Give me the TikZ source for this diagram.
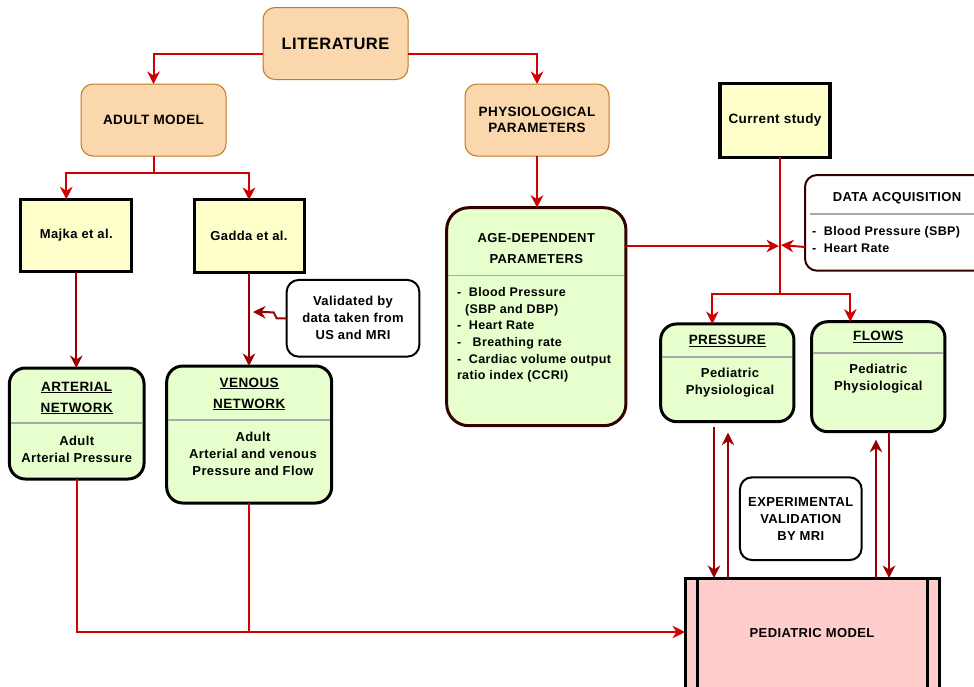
\documentclass[tikz,border=0pt]{standalone}
\usepackage{fontspec}
\setmainfont[LetterSpace=3]{Liberation Sans}
\usetikzlibrary{arrows.meta,calc}
\definecolor{peachf}{HTML}{FAD7AC}
\definecolor{peachb}{HTML}{C47A1E}
\definecolor{yelf}{HTML}{FFFFCC}
\definecolor{grnf}{HTML}{E6FFCC}
\definecolor{pinkf}{HTML}{FFCCCC}
\definecolor{redA}{HTML}{D00000}
\definecolor{redD}{HTML}{990000}
\definecolor{brn}{HTML}{330000}
\definecolor{divc}{HTML}{A8A8A8}
\begin{document}
\begin{tikzpicture}[x=1pt,y=-1pt,
  every node/.style={inner sep=0pt, outer sep=0pt},
  txt/.style={align=center, font=\bfseries\fontsize{13}{17}\selectfont},
  ttl/.style={align=center, font=\bfseries\fontsize{13.5}{21}\selectfont},
  peach/.style={draw=peachb, fill=peachf, line width=1pt, rounded corners=12pt},
  ybox/.style={draw=black, fill=yelf, line width=3pt},
  gbox/.style={draw=black, fill=grnf, line width=3pt, rounded corners=16pt},
  wbox/.style={draw=black, fill=white, line width=2pt, rounded corners=12pt},
  divline/.style={draw=divc, line width=1.5pt},
  tipA/.style={-{Stealth[length=12.5pt,width=12.5pt,inset=4pt]}},
  arr/.style={draw=redA, line width=2pt, tipA},
  arrd/.style={draw=redD, line width=2pt, tipA},
  lineA/.style={draw=redA, line width=2pt},
  lineB/.style={draw=redA, line width=1.6pt},
  arrB/.style={draw=redA, line width=1.6pt, tipA}]
\useasboundingbox (0,0) rectangle (974,686);
\clip (0,0) rectangle (974,686);

% ---- top level ----
\node[peach, minimum width=145, minimum height=72, font=\bfseries\fontsize{16.5}{20}\selectfont] (lit) at (335.5,43.5) {LITERATURE};
\node[peach, minimum width=145, minimum height=72, font=\bfseries\fontsize{13.5}{17}\selectfont] (adult) at (153.5,120) {ADULT MODEL};
\node[peach, minimum width=144, minimum height=72, align=center, font=\bfseries\fontsize{13.5}{16.5}\selectfont] (phys) at (537,120) {PHYSIOLOGICAL\\PARAMETERS};

% ---- yellow boxes ----
\node[ybox, minimum width=110.7, minimum height=72.4, txt] (majka) at (76.3,235.5) {Majka et al.};
\node[ybox, minimum width=110, minimum height=72.7, txt] (gadda) at (249,236.3) {Gadda et al.};
\node[ybox, line width=3.5pt, minimum width=110, minimum height=74, font=\bfseries\fontsize{13.5}{17}\selectfont] (cur) at (775,120.3) {Current study};

% ---- validated ----
\node[wbox, minimum width=132.7, minimum height=76.7, txt] (valid) at (353,318.3) {Validated by\\data taken from\\US and MRI};

% ---- arterial ----
\node[gbox, minimum width=134.7, minimum height=111] (art) at (76.7,423.5) {};
\node[ttl] (artT) at (76.7,398) {\underline{ARTERIAL}\\\underline{NETWORK}};
\draw[divline] ([xshift=1.5pt]art.west |- 0,423) -- ([xshift=-1.5pt]art.east |- 0,423);
\node[txt] (artB) at (76.7,449) {Adult\\Arterial Pressure};

% ---- venous ----
\node[gbox, minimum width=165, minimum height=137] (ven) at (249.2,434.5) {};
\node[ttl] (venT) at (249.2,394) {\underline{VENOUS}\\\underline{NETWORK}};
\draw[divline] ([xshift=1.5pt]ven.west |- 0,420) -- ([xshift=-1.5pt]ven.east |- 0,420);
\node[txt] (venB) at (253,454) {Adult\\Arterial and venous\\Pressure and Flow};

% ---- age dependent ----
\node[draw=brn, fill=grnf, line width=3pt, rounded corners=22pt, minimum width=179.3, minimum height=218] (age) at (536.3,316.7) {};
\node[align=center, font=\bfseries\fontsize{13}{21}\selectfont] (ageT) at (536.3,248.5) {AGE-DEPENDENT\\PARAMETERS};
\draw[divline] ([xshift=1.5pt]age.west |- 0,275.7) -- ([xshift=-1.5pt]age.east |- 0,275.7);
\node[anchor=west, align=left, font=\bfseries\fontsize{12.5}{16.7}\selectfont] (ageB) at (457,335) {-\ \ Blood Pressure\\\hspace*{8pt}(SBP and DBP)\\-\ \ Heart Rate\\-\ \ \ Breathing rate\\-\ \ Cardiac volume output\\ratio index (CCRI)};

% ---- data acquisition ----
\node[draw=brn, fill=white, line width=2pt, rounded corners=12pt, minimum width=190, minimum height=95.7, anchor=north west] (data) at (805,175) {};
\node[txt] (dataT) at (897,198.3) {DATA ACQUISITION};
\draw[divline] ([xshift=5pt]data.west |- 0,214) -- (974,214);
\node[anchor=west, align=left, font=\bfseries\fontsize{12.5}{17.3}\selectfont] (dataB) at (812,239.6) {-\ \ Blood Pressure (SBP)\\-\ \ Heart Rate};

% ---- pressure / flows ----
\node[gbox, minimum width=133.3, minimum height=97.7] (press) at (727.3,372.8) {};
\node[ttl] (pressT) at (727.3,340.7) {\underline{PRESSURE}};
\draw[divline] ([xshift=1.5pt]press.west |- 0,357) -- ([xshift=-1.5pt]press.east |- 0,357);
\node[txt] (pressB) at (730,382.3) {Pediatric\\Physiological};

\node[gbox, minimum width=133.3, minimum height=110] (flows) at (878.3,376.7) {};
\node[ttl] (flowsT) at (878.3,337) {\underline{FLOWS}};
\draw[divline] ([xshift=1.5pt]flows.west |- 0,353) -- ([xshift=-1.5pt]flows.east |- 0,353);
\node[txt] (flowsB) at (878.3,378.8) {Pediatric\\Physiological};

% ---- experimental ----
\node[wbox, minimum width=121.7, minimum height=82.7, txt] (exper) at (800.8,518.7) {EXPERIMENTAL\\VALIDATION\\BY MRI};

% ---- pediatric model ----
\node[draw=black, fill=pinkf, line width=3pt, minimum width=254, minimum height=130, anchor=north west] (ped) at (685,578) {};
\draw[line width=3pt] ([xshift=12pt]ped.north west) -- ([xshift=12pt]ped.south west);
\draw[line width=3pt] ([xshift=-12pt]ped.north east) -- ([xshift=-12pt]ped.south east);
\node[txt] (pedT) at (812,633) {PEDIATRIC MODEL};

% ---- connectors ----
\draw[arr] ([yshift=-10pt]lit.west) -| (adult.north);
\draw[arr] ([yshift=-10pt]lit.east) -| (phys.north);

\coordinate (asplit) at (153.5,173);
\draw[lineA] (adult.south) -- (asplit);
\draw[arr] (asplit) -| ([xshift=-10pt]majka.north);
\draw[arr] (asplit) -| (gadda.north);

\draw[arrd] (majka.south) -- (majka.south |- art.north);
\draw[arrd] (gadda.south) -- (gadda.south |- ven.north);

\coordinate (vt) at (253,312);
\draw[arrd] (valid.west) -- ++(-10,0) -- ++(-3,-6) -- (vt);

\draw[arr] (phys.south) -- (phys.south |- age.north);

\coordinate (jn) at (780,246);
\draw[arr] (age.east |- jn) -- ([xshift=-1pt]jn);
\draw[arr] ([yshift=-1pt]data.west |- jn) -- ([xshift=1pt,yshift=1pt]jn);

\coordinate (csplit) at (780,294);
\draw[lineA] ([xshift=5pt]cur.south) -- (csplit);
\draw[arr] (csplit) -| ([xshift=-15pt]press.north);
\draw[arr] (csplit) -| ([xshift=-28pt]flows.north);

\draw[arrd] ([xshift=-13.3pt,yshift=-5pt]press.south) -- ([xshift=-13.3pt]press.south |- ped.north);
\draw[arrd] ([xshift=0.7pt]press.south |- ped.north) -- ([xshift=0.7pt,yshift=-11pt]press.south);
\draw[arrd] ([xshift=-2.3pt]flows.south |- ped.north) -- ([xshift=-2.3pt,yshift=-8pt]flows.south);
\draw[arrd] ([xshift=10.7pt]flows.south) -- ([xshift=10.7pt]flows.south |- ped.north);

\coordinate (bus) at (249.2,632);
\draw[arrB] (art.south) |- (ped.west |- bus);
\draw[lineB] (ven.south) -- (bus);
\end{tikzpicture}
\end{document}
